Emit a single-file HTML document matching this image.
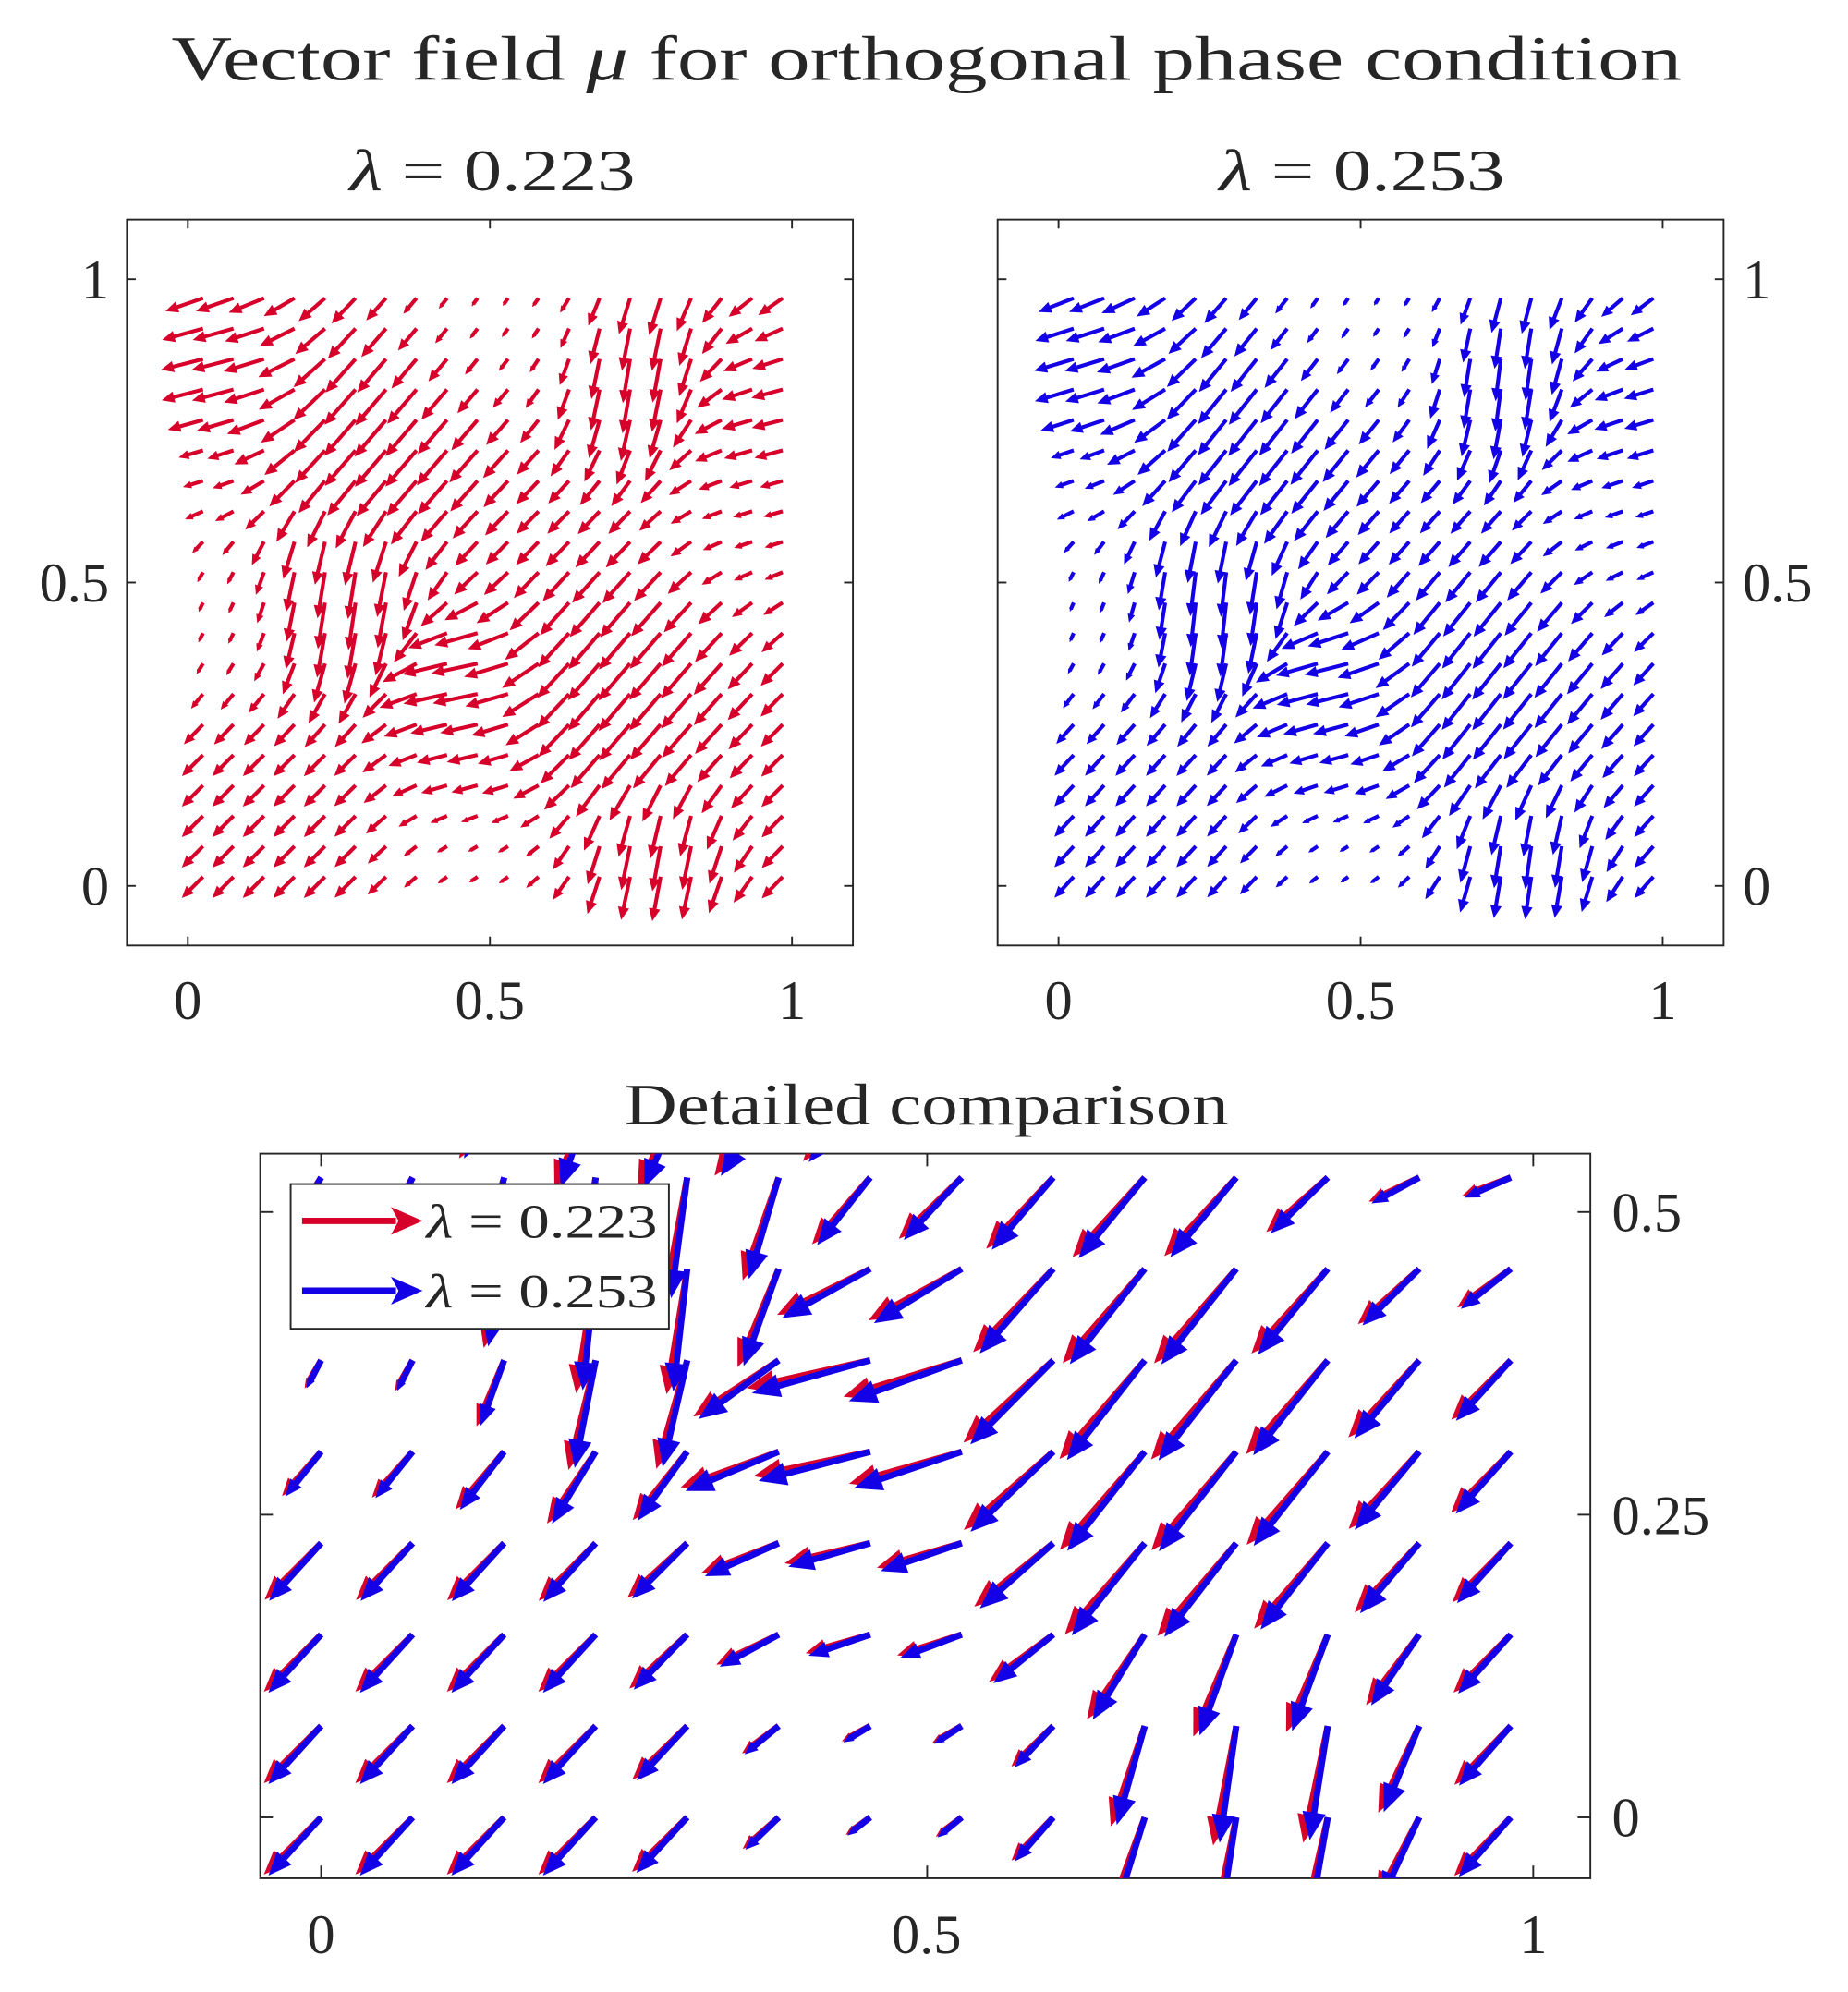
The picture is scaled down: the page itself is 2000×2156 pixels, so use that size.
<!DOCTYPE html>
<html><head><meta charset="utf-8"><style>
html,body{margin:0;padding:0;background:#fff;}
svg{display:block;}
text{font-family:"Liberation Serif",serif;fill:#262626;}
</style></head><body>
<svg id="s" width="2000" height="2156" viewBox="0 0 1456 1569.6" preserveAspectRatio="none" xmlns="http://www.w3.org/2000/svg">
<defs><clipPath id="cb"><rect x="205" y="909" width="1048" height="571"/></clipPath></defs>
<text x="730" y="63" font-size="50" text-anchor="middle" textLength="1190" lengthAdjust="spacingAndGlyphs">Vector field <tspan font-style="italic">μ</tspan> for orthogonal phase condition</text>
<text x="388" y="150" font-size="46" text-anchor="middle" textLength="225" lengthAdjust="spacingAndGlyphs"><tspan font-style="italic">λ</tspan> = 0.223</text>
<text x="1073" y="150" font-size="46" text-anchor="middle" textLength="225" lengthAdjust="spacingAndGlyphs"><tspan font-style="italic">λ</tspan> = 0.253</text>
<text x="730" y="886" font-size="46" text-anchor="middle" textLength="476" lengthAdjust="spacingAndGlyphs">Detailed comparison</text>
<g id="ax" fill="none" stroke="#262626" stroke-width="1.4">
<rect x="100" y="173" width="572" height="572"/>
<rect x="786" y="173" width="572" height="572"/>
<rect x="205" y="909" width="1048" height="571"/>
</g>
<g id="q"></g>
<g font-size="44">
<text x="148" y="803" text-anchor="middle">0</text><text x="386" y="803" text-anchor="middle">0.5</text><text x="624" y="803" text-anchor="middle">1</text>
<text x="834" y="803" text-anchor="middle">0</text><text x="1072" y="803" text-anchor="middle">0.5</text><text x="1310" y="803" text-anchor="middle">1</text>
<text x="86" y="235" text-anchor="end">1</text><text x="86" y="474" text-anchor="end">0.5</text><text x="86" y="713" text-anchor="end">0</text>
<text x="1373" y="235">1</text><text x="1373" y="474">0.5</text><text x="1373" y="713">0</text>
<text x="1270" y="970">0.5</text><text x="1270" y="1209">0.25</text><text x="1270" y="1447">0</text>
<text x="253" y="1539" text-anchor="middle">0</text><text x="730" y="1539" text-anchor="middle">0.5</text><text x="1208" y="1539" text-anchor="middle">1</text>
</g>
<g id="leg">
<rect x="229" y="933" width="298" height="114" fill="#fff" stroke="#262626" stroke-width="1.4"/>
<line x1="238" y1="962" x2="312" y2="962" stroke="#d7002a" stroke-width="5"/>
<polygon points="333,962 308,951 314,962 308,973" fill="#d7002a"/>
<line x1="238" y1="1017" x2="312" y2="1017" stroke="#1400e6" stroke-width="5"/>
<polygon points="333,1017 308,1006 314,1017 308,1028" fill="#1400e6"/>
<text x="336" y="975" font-size="38" textLength="182" lengthAdjust="spacingAndGlyphs"><tspan font-style="italic">λ</tspan> = 0.223</text>
<text x="336" y="1030" font-size="38" textLength="182" lengthAdjust="spacingAndGlyphs"><tspan font-style="italic">λ</tspan> = 0.253</text>
</g>
</svg>
<script>
(function(){
var NS="http://www.w3.org/2000/svg";
var F=[[0.05,0.85,.08,-0.075,-0.015],[0.03,0.68,.05,-0.03,-0.006],[0.5,0.95,.08,-0.004,-0.008],
[0.76,0.85,.07,-0.008,-0.08],[0.97,0.78,.08,-0.055,-0.01],[0.97,0.6,.07,-0.028,-0.005],
[0.03,0.45,.07,-0.003,-0.012],[0.26,0.48,.07,-0.008,-0.085],[0.48,0.34,.06,-0.085,-0.012],
[0.48,0.2,.06,-0.05,-0.008],[0.48,0.05,.06,-0.01,-0.005],[0.78,0.05,.06,-0.01,-0.08],
[0.35,0.78,.09,-0.055,-0.065],[0.72,0.35,.09,-0.055,-0.065],[0.05,0.1,.08,-0.035,-0.035]];
function field(x,y){var w0=0.15,u=w0*-0.035,v=w0*-0.035,W=w0;
for(var k=0;k<F.length;k++){var f=F[k];var d=(x-f[0])*(x-f[0])+(y-f[1])*(y-f[1]);var w=Math.exp(-d/(2*f[2]*f[2]));u+=w*f[3];v+=w*f[4];W+=w;}
return [u/W,v/W];}
var q=document.getElementById('q');
function el(n,a,p){var e=document.createElementNS(NS,n);for(var k in a)e.setAttribute(k,a[k]);p.appendChild(e);return e;}
function quiver(p,xs,ys,ox,sx,oy,sy,sc,col,lw,rot,mag,big){
var c=Math.cos(rot),s=Math.sin(rot);
for(var i=0;i<xs.length;i++)for(var j=0;j<ys.length;j++){
var x=xs[i],y=ys[j];var f=field(x,y);var u=(f[0]*c-f[1]*s)*sc*mag,v=(f[0]*s+f[1]*c)*sc*mag;
var X0=ox+x*sx,Y0=oy-y*sy,X1=ox+(x+u)*sx,Y1=oy-(y+v)*sy;
var dx=X1-X0,dy=Y1-Y0,L=Math.sqrt(dx*dx+dy*dy);if(L<0.5)continue;
var ux=dx/L,uy=dy/L;
var hl=big?Math.max(8,Math.min(22,0.3*L)):Math.max(3,Math.min(10,0.4*L));var hw=big?hl*0.42:hl*0.45;
var bx=X1-ux*hl,by=Y1-uy*hl;
el('line',{x1:X0,y1:Y0,x2:bx+ux*1,y2:by+uy*1,stroke:col,'stroke-width':lw},p);
el('polygon',{points:X1+','+Y1+' '+(bx-uy*hw)+','+(by+ux*hw)+' '+(bx+uy*hw)+','+(by-ux*hw),fill:col},p);
}}
var xs=[],ys=[];for(var i=0;i<20;i++){xs.push(0.025+i*0.0505);ys.push(0.015+i*0.0502);}
quiver(q,xs,ys,148,476,698,478,1.0,'#d7002a',3,0,1,false);
quiver(q,xs,ys,834,476,698,478,1.0,'#1400e6',3,0.04,0.95,false);
var g=el('g',{'clip-path':'url(#cb)'},q);
var bx=[],by=[];for(var i=0;i<14;i++)bx.push(i*0.0755);for(var j=0;j<9;j++)by.push(j*0.0755);
quiver(g,bx,by,253,955,1432,954,1.35,'#d7002a',5,0,1,true);
quiver(g,bx,by,253,955,1432,954,1.35,'#1400e6',5,0.05,0.97,true);
q.parentNode.appendChild(document.getElementById('leg'));
var t=el('g',{stroke:'#262626','stroke-width':1.4},q);
function tk(x1,y1,x2,y2){el('line',{x1:x1,y1:y1,x2:x2,y2:y2},t);}
[[100,672,148],[786,1358,834]].forEach(function(a){[0,0.5,1].forEach(function(v){var X=a[2]+v*476;tk(X,745,X,738);tk(X,173,X,180);var Y=698-v*478;tk(a[0],Y,a[0]+7,Y);tk(a[1],Y,a[1]-7,Y);});});
[0,0.5,1].forEach(function(v){var X=253+v*955;tk(X,1480,X,1470);tk(X,909,X,919);});
[0,0.25,0.5].forEach(function(v){var Y=1432-v*954;tk(205,Y,215,Y);tk(1253,Y,1243,Y);});
})();
</script>
</body></html>
